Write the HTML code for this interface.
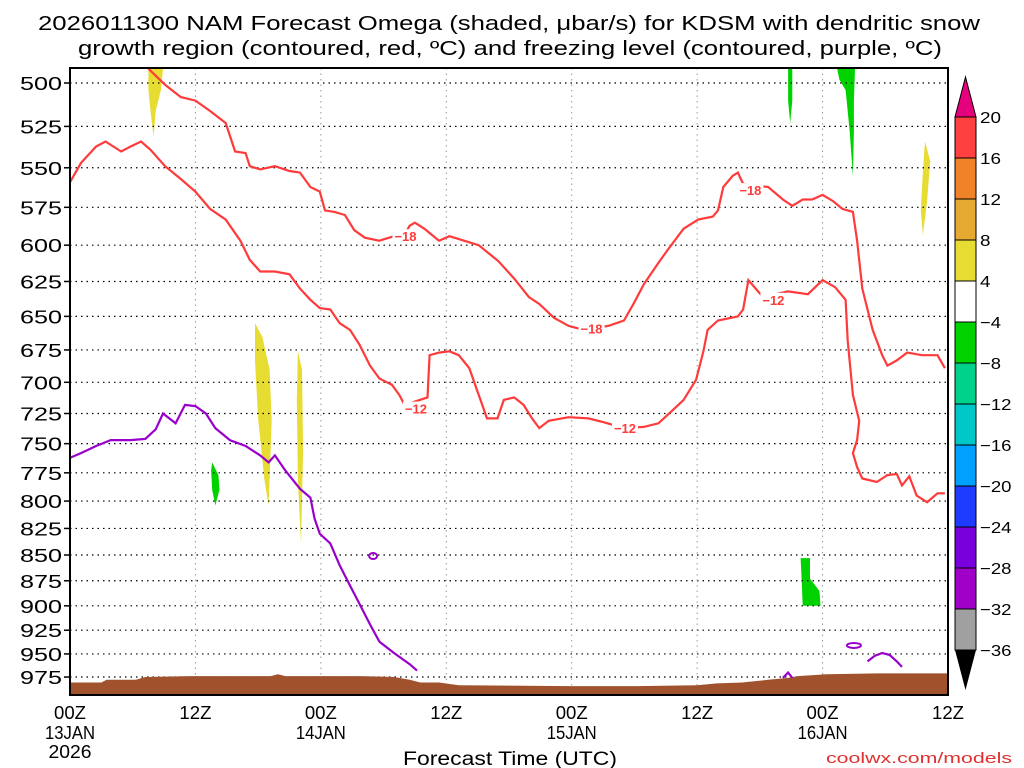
<!DOCTYPE html>
<html><head><meta charset="utf-8"><style>
html,body{margin:0;padding:0;background:#fff;}
svg{display:block;font-family:"Liberation Sans",sans-serif;}
</style></head><body>
<svg id="chart" width="1024" height="768" viewBox="0 0 1024 768" xmlns="http://www.w3.org/2000/svg">
<text x="509" y="30" font-size="20" text-anchor="middle" textLength="942" lengthAdjust="spacingAndGlyphs">2026011300 NAM Forecast Omega (shaded, μbar/s) for KDSM with dendritic snow</text>
<text x="510" y="55" font-size="20" text-anchor="middle" textLength="864" lengthAdjust="spacingAndGlyphs">growth region (contoured, red, ºC) and freezing level (contoured, purple, ºC)</text>
<g id="plot"></g>
<text x="510" y="765" font-size="19" text-anchor="middle" textLength="214" lengthAdjust="spacingAndGlyphs">Forecast Time (UTC)</text>
<text x="1012" y="763" font-size="14.5" fill="#e03030" text-anchor="end" textLength="186" lengthAdjust="spacingAndGlyphs">coolwx.com/models</text>
</svg>
<script>
const pLevels=[500,525,550,575,600,625,650,675,700,725,750,775,800,825,850,875,900,925,950,975];
const tickHours=[0,12,24,36,48,60,72,84];
const tickLabels=["00Z","12Z","00Z","12Z","00Z","12Z","00Z","12Z"];
const tickDates=["13JAN","","14JAN","","15JAN","","16JAN",""];
const m18Hours=[7.5,9.1,10.6,12,13.4,14.9,15.8,16.8,17.2,18.2,19.6,21,22,23,23.9,24.4,25.3,26.3,27.2,28.2,29.6,31,32,32.5,33,33.9,35.3,36.3,37.7,39.1,41,42.5,43.9,44.9,46.3,47.7,48.7,49.8,51.5,53,53.9,54.9,56.3,57.2,58.7,60.1,61.5,62,62.5,63.4,63.9,64.4,66.8,68.2,69.1,70.1,71,72,73,73.9,74.9,75.3,75.8,76.8,77.7,78.2,79.1,80.1,81.5,83,83.7];
const m18Pres=[492,501,508,510,516,523,540,541,549,551,549,552,553,562,565,577,578,580,590,595,597,594,593,587,585,589,597,594,597,600,611,623,636,641,651,657,659,659,657,653,641,627,612,603,589,583,581,577,562,555,553,560,562,570,574,570,570,567,571,576,578,597,630,660,679,687,683,677,679,679,689];
const m12Hours=[0,1.05,2.5,3.4,4.9,5.8,6.8,7.7,9.1,10.6,12,13.4,14.9,16.3,17.2,18.2,19.6,21,22,23,23.9,24.9,25.8,26.8,27.7,28.7,29.6,30.8,31.5,32,34.2,34.4,35.3,36.3,37.2,38.2,39.1,39.9,40.9,41.5,42.5,43.4,44.2,44.9,45.8,47.7,49.6,51,53,54.9,56.3,57.7,58.7,59.9,60.6,61,62,63.9,64.4,64.9,65.6,66.3,68.7,70.6,72,73.2,74.2,74.4,74.9,75.5,75.3,74.9,75.3,75.8,77.2,78.2,79.1,79.6,80.3,81,82,83,83.7];
const m12Pres=[559,547,537,534,540,537,534,539,549,557,565,576,583,597,610,618,618,620,630,638,644,645,655,660,671,687,697,702,710,718,712,679,677,676,679,689,710,729,729,714,712,718,729,737,731,728,729,732,737,736,733,722,714,698,676,660,653,650,645,624,630,636,632,634,624,629,638,668,710,731,747,758,770,780,783,777,776,786,778,795,801,793,793];
const frzHours=[0,1.05,2.5,3.9,5.8,7.2,8.2,8.9,10.1,11,12,13,13.9,15.3,16.8,18.2,19,19.6,20.6,22,23,23.4,23.9,24.9,25.8,26.8,27.7,28.7,29.6,31,32.5,33.2];
const frzPres=[762,758,752,747,747,746,738,725,733,718,719,725,737,747,752,760,766,760,773,789,797,816,830,839,860,880,898,919,937,949,961,968];
const frz2Hours=[76.3,77,77.7,78.4,79.1,79.6];
const frz2Pres=[958,952,949,951,958,964];
const frz3Hours=[68.2,68.7,69.1];
const frz3Pres=[976,970,976];
const terrHours=[0,3,3.5,6.3,7.2,11.5,19.2,19.9,20.6,27.7,31,32.5,33.5,35.3,37.2,47.7,54.3,60,61.9,64.3,66.8,68.7,69.6,72.4,77.2,84];
const terrPres=[981,981,978,978,975,974,974,972,974,974,975,978,981,981,984,985,985,984,982,981,978,976,974,972,971,971];
const shadeValues=[6,6,6,-6,-6,-6,6,-6];
const shadeHours=[[7.5,8.9,8.7,8.2,8,7.7,7.5],[17.7,18.4,19.1,19.3,19.1,19,18.6,18,17.7],[21.8,22.2,22.3,22.1,21.8,21.7],[13.6,14.2,14.3,13.9,13.6,13.5],[68.7,69.1,69.1,68.9,68.7],[73.4,75.1,75,75,74.9,74.6,74.2,73.6],[81.8,82.3,82,81.6,81.4,81.6],[69.9,70.8,70.8,71.7,71.8,70.1,70]];
const shadePres=[[492,492,504,516,531,516,504],[655,665,690,731,781,804,781,729,683],[676,690,756,839,781,714],[766,777,790,804,790,773],[492,492,510,523,510],[492,492,510,528,555,528,504,498],[534,546,571,593,577,552],[853,853,873,885,900,900,875]];
const labels18=[[32,594],[49.8,659],[65,564]];
const labels12=[[33,721],[53,737],[67.2,638]];
const cbValues=[20,16,12,8,4,-4,-8,-12,-16,-20,-24,-28,-32,-36];
const cbColors=["#ff4040","#f08228","#e6aa32","#e6dc32","#ffffff","#00d200","#00d28c","#00c8c8","#00a0ff","#1e3cff","#7800dc","#a000c8","#a0a0a0"];

const X0=70,X1=948,Y0=68,Y1=695;
const xs=h=>X0+h*(X1-X0)/84;
const ys=p=>83+889.5*Math.log(p/500);
const NS="http://www.w3.org/2000/svg";
const plot=document.getElementById('plot');
function mk(tag,attrs,parent){const e=document.createElementNS(NS,tag);for(const k in attrs)e.setAttribute(k,attrs[k]);(parent||plot).appendChild(e);return e;}
function pts(H,P){return H.map((h,i)=>xs(h).toFixed(1)+','+ys(P[i]).toFixed(1)).join(' ');}
function shadeColor(v){if(v>=4){return v>=8?"#e6aa32":"#e6dc32";}return v<=-8?"#00d28c":"#00d200";}

const clip=mk('clipPath',{id:'pc'});mk('rect',{x:X0,y:Y0,width:X1-X0,height:Y1-Y0},clip);
const g=mk('g',{'clip-path':'url(#pc)'});

shadeValues.forEach((v,i)=>{const e=mk('polygon',{points:pts(shadeHours[i],shadePres[i]),fill:shadeColor(v)},g);

});

pLevels.forEach(p=>{const e=mk('line',{x1:X0,x2:X1,y1:ys(p),y2:ys(p),stroke:'#000','stroke-width':1.2,'stroke-dasharray':'1.5,4'},g);

});
tickHours.forEach(h=>{const e=mk('line',{x1:xs(h),x2:xs(h),y1:Y0,y2:Y1,stroke:'#999','stroke-width':1,'stroke-dasharray':'1.5,4'},g);

});

const terr=mk('polygon',{points:pts(terrHours,terrPres)+' '+xs(84)+','+(Y1+5)+' '+xs(0)+','+(Y1+5),fill:'#a0522d'},g);



const l18=mk('polyline',{points:pts(m18Hours,m18Pres),fill:'none',stroke:'#ff3a3a','stroke-width':2.2},g);


const l12=mk('polyline',{points:pts(m12Hours,m12Pres),fill:'none',stroke:'#ff3a3a','stroke-width':2.2},g);


[[frzHours,frzPres],[frz2Hours,frz2Pres],[frz3Hours,frz3Pres]].forEach((a,i)=>{const e=mk('polyline',{points:pts(a[0],a[1]),fill:'none',stroke:'#9900cc','stroke-width':2.2},g);

});
const lp1=mk('ellipse',{cx:xs(29),cy:ys(851),rx:4,ry:3,fill:'none',stroke:'#9900cc','stroke-width':2},g);


const lp2=mk('ellipse',{cx:xs(75),cy:ys(941),rx:7,ry:2.5,fill:'none',stroke:'#9900cc','stroke-width':2},g);



[[labels18,'−18'],[labels12,'−12']].forEach(([arr,t])=>arr.forEach(([h,p])=>{
const r=mk('rect',{x:xs(h)-12,y:ys(p)-7,width:26,height:14,fill:'#fff'},g);


const e=mk('text',{x:xs(h)+1,y:ys(p)+5,'font-size':13,'font-weight':'bold',fill:'#ff3a3a','text-anchor':'middle'},g);
e.textContent=t;

}));

const frame=mk('rect',{x:X0,y:Y0,width:X1-X0,height:Y1-Y0,fill:'none',stroke:'#000','stroke-width':2});



pLevels.forEach(p=>{const t=mk('line',{x1:X0-6,x2:X0,y1:ys(p),y2:ys(p),stroke:'#000','stroke-width':1.5});


const e=mk('text',{x:X0-8,y:ys(p)+7,'font-size':18,'text-anchor':'end',textLength:42,lengthAdjust:'spacingAndGlyphs'});e.textContent=p;

});
tickHours.forEach((h,i)=>{const e=mk('text',{x:xs(h),y:Y1+24,'font-size':18,'text-anchor':'middle',textLength:32,lengthAdjust:'spacingAndGlyphs'});e.textContent=tickLabels[i];


if(tickDates[i]){const d=mk('text',{x:xs(h),y:Y1+44,'font-size':18,'text-anchor':'middle',textLength:50,lengthAdjust:'spacingAndGlyphs'});d.textContent=tickDates[i];

}});
const yr=mk('text',{x:xs(0),y:Y1+63,'font-size':18,'text-anchor':'middle',textLength:43,lengthAdjust:'spacingAndGlyphs'});yr.textContent='2026';



// colorbar
const CB0=117,CB1=650,CX=955,CW=21,bh=(CB1-CB0)/cbColors.length;
cbColors.forEach((c,i)=>{const e=mk('rect',{x:CX,y:CB0+i*bh,width:CW,height:bh,fill:c,stroke:'#000','stroke-width':1});

});
const tu=mk('polygon',{points:`${CX},${CB0} ${CX+CW},${CB0} ${CX+CW/2},${CB0-40}`,fill:'#e6007e',stroke:'#000','stroke-width':1});


const td=mk('polygon',{points:`${CX},${CB1} ${CX+CW},${CB1} ${CX+CW/2},${CB1+40}`,fill:'#000'});


cbValues.forEach((v,i)=>{const txt=v<0?'−'+(-v):String(v);const e=mk('text',{x:980,y:CB0+i*bh+6,'font-size':16,textLength:txt.length*10.5,lengthAdjust:'spacingAndGlyphs'});e.textContent=txt;

});
</script>
</body></html>
